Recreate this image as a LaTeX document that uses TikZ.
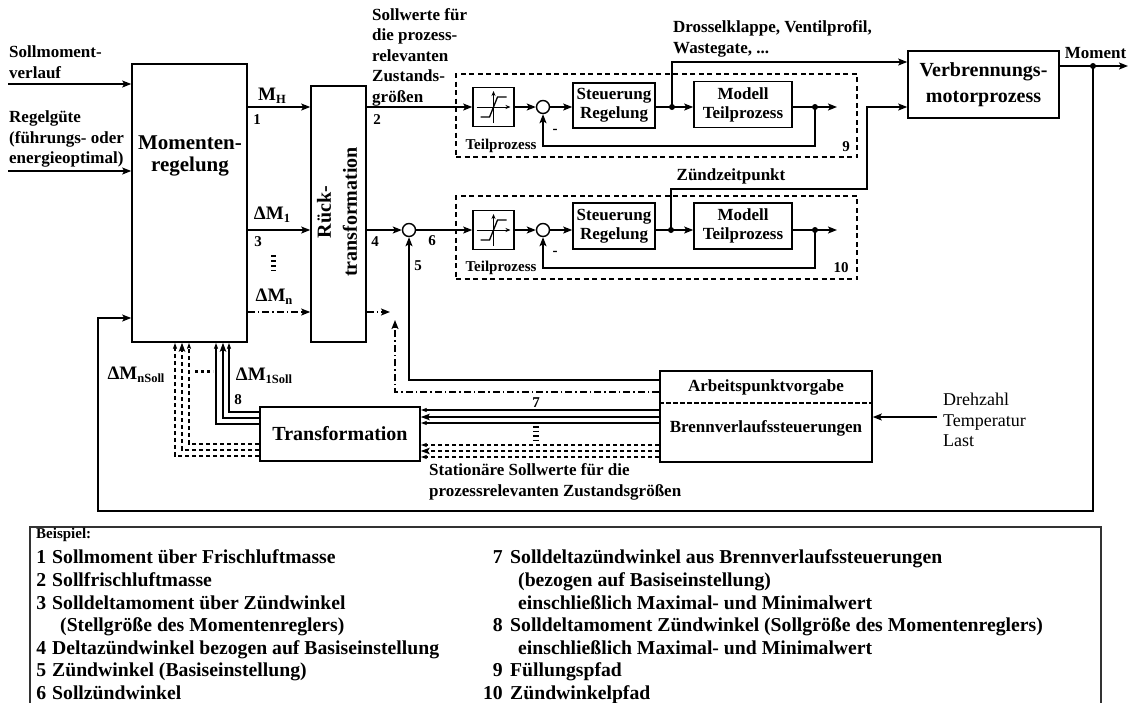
\documentclass[tikz,border=0pt]{standalone}
\usepackage{fontspec}
\setmainfont{Liberation Serif}
\usetikzlibrary{arrows.meta}
\newcommand\lowidx[1]{\raisebox{-0.35ex}{\fontsize{12.5}{13}\selectfont #1}}
\begin{document}
\begin{tikzpicture}[x=1pt,y=-1pt,
  ln/.style={line width=1.5pt},
  sig/.style={ln,-{Stealth[length=9pt,width=7pt,inset=2pt]}},
  fine/.style={line width=1.1pt,-{Stealth[length=6pt,width=4pt,inset=1pt]}},
  wide/.style={line width=1.1pt,-{Stealth[length=9pt,width=6.5pt,inset=2pt]}},
  dd/.style={dash pattern=on 7pt off 3pt on 1.5pt off 3pt},
  ds/.style={dash pattern=on 4.5pt off 2.5pt},
  blk/.style={draw,line width=1.6pt,fill=white,inner sep=0pt,align=center},
  tp/.style={draw,line width=1.3pt,dash pattern=on 5pt off 3.5pt,inner sep=0pt},
  sumc/.style={circle,draw,line width=1.4pt,minimum size=13pt,inner sep=0pt},
  jn/.style={circle,fill,inner sep=0pt,minimum size=6pt},
  t15/.style={inner sep=0pt,font=\fontsize{15}{18}\selectfont\bfseries},
  t17/.style={inner sep=0pt,font=\fontsize{17}{20.5}\selectfont\bfseries},
  tb/.style={font=\fontsize{17}{19}\selectfont\bfseries},
  t19/.style={inner sep=0pt,font=\fontsize{19}{22}\selectfont\bfseries},
  t20/.style={font=\fontsize{20}{26}\selectfont\bfseries},
  t21/.style={inner sep=0pt,align=center,font=\fontsize{21}{22}\selectfont\bfseries},
  lg/.style={inner sep=0pt,font=\fontsize{19.7}{22}\selectfont\bfseries},
]
\useasboundingbox (0,0) rectangle (1135,702);

% ---------- dashed frames of the two sub-processes
\node[tp,minimum width=401pt,minimum height=83pt] (tp9) at (656.5,115.5) {};
\node[tp,minimum width=401pt,minimum height=83pt] (tp10) at (656.5,237.5) {};

% ---------- main blocks
\node[blk,minimum width=115pt,minimum height=278pt] (mr) at (189.5,203) {};
\node[t21] (mrt) at (190,156) {Momenten-\\regelung};
\node[blk,minimum width=55pt,minimum height=256pt] (rt) at (338.5,214) {};
\node[t20,inner sep=0pt,rotate=90,align=center] (rtt) at (337,212) {Rück-\\transformation};
\node[blk,t20,minimum width=151pt,minimum height=67pt] (vm) at (983.5,84.5) {Verbrennungs-\\motorprozess};
\node[blk,t20,minimum width=160pt,minimum height=54pt] (tr) at (340,434) {Transformation};
\node[blk,minimum width=212pt,minimum height=91pt] (ap) at (766,416.5) {};
\coordinate (apd) at (0,403);
\draw[ds,line width=1.2pt] (ap.west |- apd) -- (ap.east |- apd);
\node[t17] (apt1) at (766,387) {Arbeitspunktvorgabe};
\node[t17] (apt2) at (766,428) {Brennverlaufssteuerungen};

% ---------- sub-process 9 (fresh air path)
\node[blk,minimum width=41pt,minimum height=39pt] (sat9) at (493.5,107) {};
\node[sumc] (s9) at (543,107) {};
\node[blk,tb,minimum width=82pt,minimum height=45pt] (sr9) at (614,105.5) {Steuerung\\Regelung};
\node[jn] (j9) at (672,107) {};
\node[blk,tb,minimum width=98pt,minimum height=46pt] (md9) at (743,104.5) {Modell\\Teilprozess};
\node[jn] (k9) at (815,107) {};
\coordinate (o9) at (837,107);

% ---------- sub-process 10 (ignition path)
\node[sumc] (s10a) at (409,230) {};
\node[blk,minimum width=41pt,minimum height=39pt] (sat10) at (493.5,230) {};
\node[sumc] (s10) at (543,230) {};
\node[blk,tb,minimum width=82pt,minimum height=46pt] (sr10) at (614,226) {Steuerung\\Regelung};
\node[jn] (j10) at (671,230) {};
\node[blk,tb,minimum width=98pt,minimum height=46pt] (md10) at (743,226) {Modell\\Teilprozess};
\node[jn] (k10) at (815,230) {};
\coordinate (o10) at (837,230);

% saturation symbols
\foreach \s in {sat9,sat10}{
  \begin{scope}[shift={(\s.center)}]
    \draw[line width=0.9pt,-{Stealth[length=5pt,width=4pt]}] (-17,0) -- (17,0);
    \draw[line width=0.9pt,-{Stealth[length=5pt,width=4pt]}] (0,16) -- (0,-16);
    \draw[line width=1.3pt] (-13,10) -- (-4,10) -- (4,-10) -- (13,-10);
  \end{scope}
}

% ---------- inputs of the torque controller
\coordinate (i1) at (8,84);
\coordinate (i2) at (8,171);
\draw[sig] (i1) -- (mr.west |- i1);
\draw[sig] (i2) -- (mr.west |- i2);
\node[t17,anchor=west,align=left] (li1) at (9,62) {Sollmoment-\\verlauf};
\node[t17,anchor=west,align=left] (li2) at (9,139) {Regelgüte\\(führungs- oder\\energieoptimal)};

% ---------- controller outputs
\coordinate (dn) at (390,312);
\draw[sig] (mr.east |- sat9) -- (rt.west |- sat9);
\draw[sig] (mr.east |- sat10) -- (rt.west |- sat10);
\draw[sig,dd] (mr.east |- dn) -- (rt.west |- dn);
\draw[sig,dd] (rt.east |- dn) -- (dn);
\node[t19] (lmh) at (272,96) {M\lowidx{H}};
\node[t19] (lm1) at (272,215) {ΔM\lowidx{1}};
\node[t19] (lmn) at (274,297) {ΔM\lowidx{n}};
\node[t15] (n1) at (257,120) {1};
\node[t15] (n3) at (258,242) {3};
\draw[line width=5pt,dash pattern=on 2pt off 3pt] (273,255) -- (273,271);

% ---------- row 9 connections
\draw[sig] (rt.east |- sat9) -- (sat9);
\draw[sig] (sat9) -- (s9);
\draw[sig] (s9) -- (sr9.west |- s9);
\draw[ln] (sr9.east |- j9) -- (j9.center);
\draw[sig] (j9.center) -- (md9.west |- j9);
\draw[ln] (md9.east |- k9) -- (k9.center);
\draw[sig] (k9.center) -- (o9);
\draw[sig] (k9.center) -- ++(0,39) -| (s9.south);
\coordinate (u9) at (672,62);
\draw[sig] (j9.center) -- (u9) -- (vm.west |- u9);

% ---------- row 10 connections
\draw[sig] (rt.east |- s10a) -- (s10a);
\draw[sig] (s10a) -- (sat10);
\draw[sig] (sat10) -- (s10);
\draw[sig] (s10) -- (sr10.west |- s10);
\draw[ln] (sr10.east |- j10) -- (j10.center);
\draw[sig] (j10.center) -- (md10.west |- j10);
\draw[ln] (md10.east |- k10) -- (k10.center);
\draw[sig] (k10.center) -- (o10);
\draw[sig] (k10.center) -- ++(0,38) -| (s10.south);
\coordinate (u10) at (867,189);
\coordinate (v10) at (867,107);
\draw[sig] (j10.center) |- (u10) -- (v10) -- (vm.west |- v10);

% ---------- labels around the sub-processes
\node[t17,anchor=west,align=left] (lsw) at (372,57) {Sollwerte für\\die prozess-\\relevanten\\Zustands-\\größen};
\node[t15] (n2) at (377,120) {2};
\node[t15] (n4) at (375,242) {4};
\node[t15] (n6) at (432,241) {6};
\node[t15] (n5) at (418,266) {5};
\node[t17,anchor=west,align=left] (ldk) at (673,39) {Drosselklappe, Ventilprofil,\\Wastegate, ...};
\node[t17] (lzz) at (731,176) {Zündzeitpunkt};
\node[t15] (ltp9) at (501,146) {Teilprozess};
\node[t15] (ltp10) at (501,268) {Teilprozess};
\node[t15] (lm9) at (555,131) {-};
\node[t15] (lm10) at (555,253) {-};
\node[t15] (n9) at (846,147) {9};
\node[t15] (n10) at (841,268) {10};

% ---------- engine output and torque feedback
\node[jn] (jm) at (1093,66) {};
\coordinate (mo) at (1128,66);
\coordinate (fb1) at (1093,511);
\coordinate (fb2) at (98,318);
\draw[sig] (vm.east |- jm) -- (mo);
\draw[sig] (jm.center) -- (fb1) -| (fb2) -- (mr.west |- fb2);
\node[t17] (lmo) at (1095.5,53) {Moment};

% ---------- operating point paths
\coordinate (p5) at (0,380);
\coordinate (p6) at (0,392);
\coordinate (q6) at (395,320);
\draw[sig] (ap.west |- p5) -| (s10a.south);
\draw[sig,dd] (ap.west |- p6) -| (q6);

\coordinate (dzp) at (937,417);
\draw[sig] (dzp) -- (ap.east |- dzp);
\node[inner sep=0pt,anchor=west,align=left,font=\fontsize{18}{20.5}\selectfont] (ldz) at (943,420) {Drehzahl\\Temperatur\\Last};

% ---------- set-point bundles into and out of the transformation
\foreach \yy/\st in {410/fine,417/wide,423/fine}{
  \coordinate (h) at (0,\yy);
  \draw[\st] (ap.west |- h) -- (tr.east |- h);
}
\foreach \yy/\st in {445/fine,451/wide,457/fine}{
  \coordinate (h) at (0,\yy);
  \draw[\st,ds] (ap.west |- h) -- (tr.east |- h);
}
\foreach \yy/\xx/\st in {412/229/fine,418/223/wide,424/216/fine}{
  \coordinate (h) at (0,\yy);
  \coordinate (v) at (\xx,0);
  \draw[\st] (tr.west |- h) -| (v |- mr.south);
}
\foreach \yy/\xx/\st in {444/189/fine,450/182/wide,456/175/fine}{
  \coordinate (h) at (0,\yy);
  \coordinate (v) at (\xx,0);
  \draw[\st,ds] (tr.west |- h) -| (v |- mr.south);
}
\node[t15] (n7) at (536,403) {7};
\draw[line width=6pt,dash pattern=on 1.6pt off 3pt] (536,426) -- (536,440);
\node[t15] (n8) at (238,400) {8};
\node[t19] (lmns) at (136,375) {ΔM\lowidx{nSoll}};
\node[t19] (lm1s) at (264,376) {ΔM\lowidx{1Soll}};
\draw[line width=3pt,dash pattern=on 3pt off 3pt] (195,371) -- (213,371);
\node[t17,anchor=west,align=left] (lst) at (429,482) {Stationäre Sollwerte für die\\prozessrelevanten Zustandsgrößen};

% ---------- legend
\draw[line width=1.2pt,draw=black!80] (30,712) -- (30,527) -- (1101,527) -- (1101,712);
\node[inner sep=0pt,anchor=base west,font=\fontsize{15}{16}\selectfont\bfseries] (lb) at (36,538.5) {Beispiel:};
\node[lg,anchor=base east] (e1n) at (46.5,563.5) {1};
\node[lg,anchor=base west] (e1) at (52,563.5) {Sollmoment über Frischluftmasse};
\node[lg,anchor=base east] (e2n) at (46.5,586.5) {2};
\node[lg,anchor=base west] (e2) at (52,586.5) {Sollfrischluftmasse};
\node[lg,anchor=base east] (e3n) at (46.5,609.5) {3};
\node[lg,anchor=base west] (e3) at (52,609.5) {Solldeltamoment über Zündwinkel};
\node[lg,anchor=base west] (e3b) at (60,631.5) {(Stellgröße des Momentenreglers)};
\node[lg,anchor=base east] (e4n) at (46.5,654.5) {4};
\node[lg,anchor=base west] (e4) at (52,654.5) {Deltazündwinkel bezogen auf Basiseinstellung};
\node[lg,anchor=base east] (e5n) at (46.5,676.5) {5};
\node[lg,anchor=base west] (e5) at (52,676.5) {Zündwinkel (Basiseinstellung)};
\node[lg,anchor=base east] (e6n) at (46.5,699.5) {6};
\node[lg,anchor=base west] (e6) at (52,699.5) {Sollzündwinkel};

\node[lg,anchor=base east] (e7n) at (503,563.5) {7};
\node[lg,anchor=base west] (e7) at (510,563.5) {Solldeltazündwinkel aus Brennverlaufssteuerungen};
\node[lg,anchor=base west] (e7b) at (518,586.5) {(bezogen auf Basiseinstellung)};
\node[lg,anchor=base west] (e7c) at (518,609.5) {einschließlich Maximal- und Minimalwert};
\node[lg,anchor=base east] (e8n) at (503,631.5) {8};
\node[lg,anchor=base west] (e8) at (510,631.5) {Solldeltamoment Zündwinkel (Sollgröße des Momentenreglers)};
\node[lg,anchor=base west] (e8b) at (518,654.5) {einschließlich Maximal- und Minimalwert};
\node[lg,anchor=base east] (e9n) at (503,676.5) {9};
\node[lg,anchor=base west] (e9) at (510,676.5) {Füllungspfad};
\node[lg,anchor=base east] (e10n) at (503,699.5) {10};
\node[lg,anchor=base west] (e10) at (510,699.5) {Zündwinkelpfad};
\end{tikzpicture}
\end{document}
